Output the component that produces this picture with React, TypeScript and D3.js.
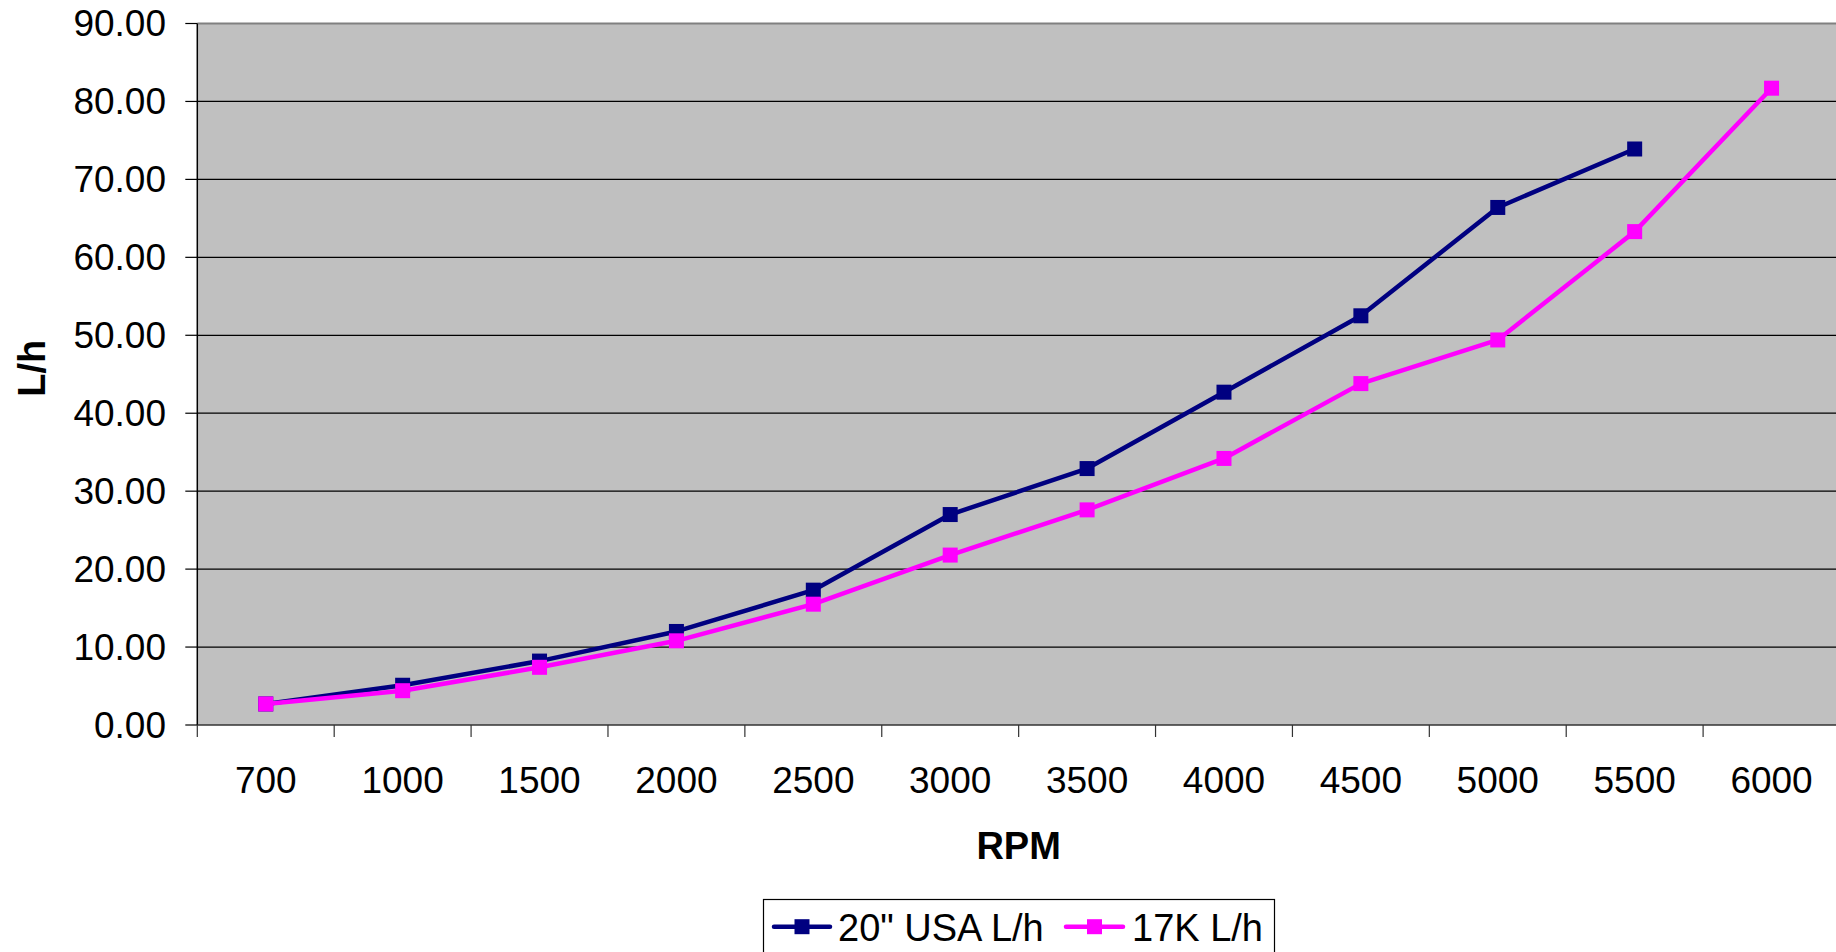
import React, { useEffect, useRef } from "react";
import * as d3 from "d3";

const categories = ["700", "1000", "1500", "2000", "2500", "3000", "3500", "4000", "4500", "5000", "5500", "6000"];
const usaValues: (number | null)[] = [2.7, 5.1, 8.2, 12.0, 17.3, 27.0, 32.9, 42.7, 52.5, 66.4, 73.9, null];
const k17Values: (number | null)[] = [2.7, 4.4, 7.4, 10.8, 15.5, 21.8, 27.6, 34.2, 43.8, 49.4, 63.3, 81.7];
const yTicks = [0, 10, 20, 30, 40, 50, 60, 70, 80, 90];
const seriesNames = ["20\" USA L/h", "17K L/h"];
const seriesColors = ["#000080", "#FF00FF"];

const W = 1836;
const H = 952;
const FONT = "'Liberation Sans', Arial, sans-serif";

export default function App() {
  const ref = useRef<SVGSVGElement | null>(null);

  useEffect(() => {
    const svg = d3.select(ref.current);
    svg.selectAll("*").remove();

    const left = 197.3;
    const right = 1840;
    const top = 23.5;
    const bottom = 725;

    const x = d3.scaleBand<string>().domain(categories).range([left, right]).padding(0);
    const y = d3.scaleLinear().domain([0, 90]).range([bottom, top]);

    // plot background
    svg.append("rect")
      .attr("x", left).attr("y", top)
      .attr("width", right - left).attr("height", bottom - top)
      .attr("fill", "#C0C0C0");

    // gridlines
    svg.append("g").selectAll("line")
      .data(yTicks.filter(t => t > 0 && t < 90))
      .join("line")
      .attr("x1", left).attr("x2", right)
      .attr("y1", d => y(d)).attr("y2", d => y(d))
      .attr("stroke", "#000").attr("stroke-width", 1.2);

    // top border
    svg.append("line")
      .attr("x1", left).attr("x2", right)
      .attr("y1", top).attr("y2", top)
      .attr("stroke", "#808080").attr("stroke-width", 2);

    // y axis line
    svg.append("line")
      .attr("x1", left).attr("x2", left)
      .attr("y1", top).attr("y2", bottom)
      .attr("stroke", "#000").attr("stroke-width", 1.5);
    // x axis line
    svg.append("line")
      .attr("x1", left).attr("x2", right)
      .attr("y1", bottom).attr("y2", bottom)
      .attr("stroke", "#333").attr("stroke-width", 1.5);

    // y ticks & labels
    const yg = svg.append("g");
    yTicks.forEach(t => {
      yg.append("line")
        .attr("x1", left - 12).attr("x2", left)
        .attr("y1", y(t)).attr("y2", y(t))
        .attr("stroke", "#000").attr("stroke-width", 1.2);
      yg.append("text")
        .attr("x", 166).attr("y", y(t))
        .attr("dy", "0.35em")
        .attr("text-anchor", "end")
        .attr("font-family", FONT).attr("font-size", 37)
        .attr("fill", "#000")
        .text(d3.format(".2f")(t));
    });

    // x ticks & labels
    const xg = svg.append("g");
    const bounds = categories.map(c => x(c)!).concat([right]);
    bounds.forEach(b => {
      xg.append("line")
        .attr("x1", b).attr("x2", b)
        .attr("y1", bottom).attr("y2", bottom + 12)
        .attr("stroke", "#333").attr("stroke-width", 1.2);
    });
    categories.forEach(c => {
      xg.append("text")
        .attr("x", x(c)! + x.bandwidth() / 2).attr("y", 793)
        .attr("text-anchor", "middle")
        .attr("font-family", FONT).attr("font-size", 37)
        .attr("fill", "#000")
        .text(c);
    });

    // axis titles
    svg.append("text")
      .attr("x", (left + right) / 2).attr("y", 859)
      .attr("text-anchor", "middle")
      .attr("font-family", FONT).attr("font-size", 38).attr("font-weight", "bold")
      .text("RPM");
    svg.append("text")
      .attr("transform", `translate(45, ${(top + bottom) / 2 - 6}) rotate(-90)`)
      .attr("text-anchor", "middle")
      .attr("font-family", FONT).attr("font-size", 38).attr("font-weight", "bold")
      .text("L/h");

    // series
    const allSeries = [usaValues, k17Values];
    allSeries.forEach((vals, i) => {
      const pts = categories
        .map((c, j) => ({ c, v: vals[j] }))
        .filter(p => p.v !== null) as { c: string; v: number }[];
      const line = d3.line<{ c: string; v: number }>()
        .x(p => x(p.c)! + x.bandwidth() / 2)
        .y(p => y(p.v));
      svg.append("path")
        .datum(pts)
        .attr("d", line)
        .attr("fill", "none")
        .attr("stroke", seriesColors[i])
        .attr("stroke-width", 4.5)
        .attr("stroke-linejoin", "round");
      svg.append("g").selectAll("rect")
        .data(pts)
        .join("rect")
        .attr("x", p => x(p.c)! + x.bandwidth() / 2 - 7.5)
        .attr("y", p => y(p.v) - 7.5)
        .attr("width", 15).attr("height", 15)
        .attr("fill", seriesColors[i]);
    });

    // legend
    const lg = svg.append("g");
    lg.append("rect")
      .attr("x", 763.5).attr("y", 899.5)
      .attr("width", 511).attr("height", 70)
      .attr("fill", "#fff").attr("stroke", "#000").attr("stroke-width", 1.2);
    const items = [
      { x1: 774, x2: 830, tx: 838 },
      { x1: 1066, x2: 1123, tx: 1132 },
    ];
    items.forEach((it, i) => {
      const ly = 926.7;
      lg.append("line")
        .attr("x1", it.x1).attr("x2", it.x2)
        .attr("y1", ly).attr("y2", ly)
        .attr("stroke", seriesColors[i]).attr("stroke-width", 4.5)
        .attr("stroke-linecap", "round");
      lg.append("rect")
        .attr("x", (it.x1 + it.x2) / 2 - 7.5).attr("y", ly - 7.5)
        .attr("width", 15).attr("height", 15)
        .attr("fill", seriesColors[i]);
      lg.append("text")
        .attr("x", it.tx).attr("y", 941)
        .attr("font-family", FONT).attr("font-size", 38)
        .attr("fill", "#000")
        .text(seriesNames[i]);
    });
  }, []);

  return (
    <div style={{ position: "fixed", left: 0, top: 0, width: W, height: H, overflow: "hidden", background: "#fff" }}>
      <svg ref={ref} width={W} height={H} style={{ display: "block" }} />
    </div>
  );
}
